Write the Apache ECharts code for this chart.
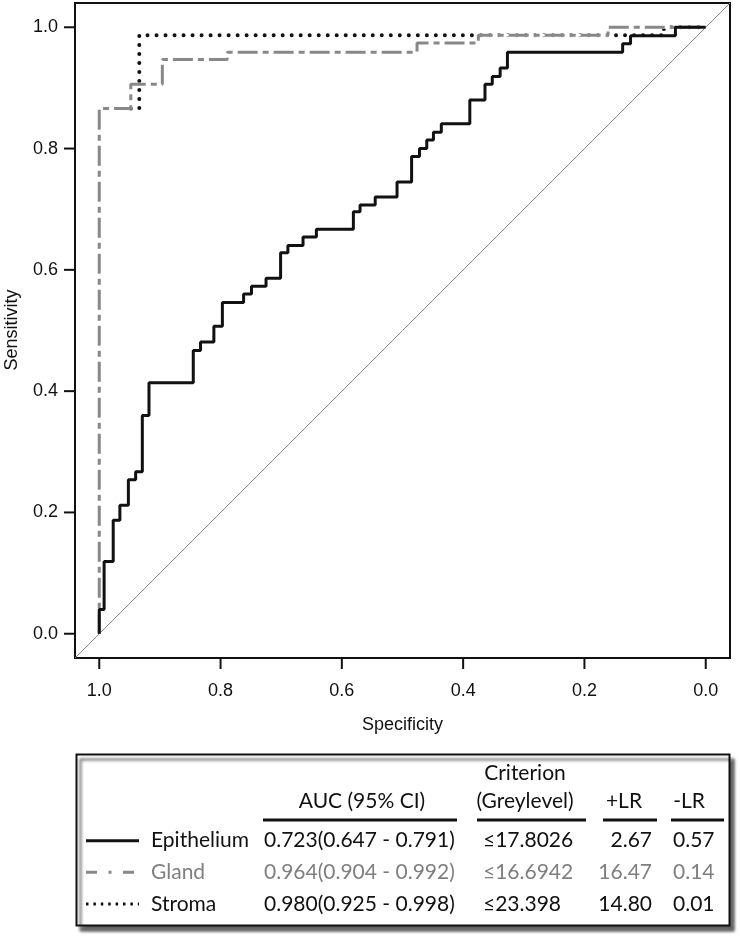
<!DOCTYPE html>
<html>
<head>
<meta charset="utf-8">
<script src="https://cdn.jsdelivr.net/npm/echarts@6/dist/echarts.min.js"></script>
<style>
html,body{margin:0;padding:0;background:#fff;}
#chart{width:740px;height:940px;}
</style>
</head>
<body>
<div id="chart"></div>
<script>
// ROC step points: [specificity, sensitivity] at each jump (step drawn horizontally then vertically)
const epitheliumPts = [[1.0,0.0],[1.0,0.040],[0.992,0.119],[0.977,0.187],[0.966,0.212],[0.952,0.254],[0.940,0.267],[0.929,0.360],[0.918,0.414],[0.845,0.467],[0.833,0.481],[0.811,0.507],[0.797,0.546],[0.762,0.560],[0.749,0.573],[0.725,0.586],[0.701,0.628],[0.689,0.640],[0.664,0.654],[0.642,0.667],[0.581,0.696],[0.570,0.707],[0.545,0.720],[0.509,0.745],[0.485,0.787],[0.472,0.800],[0.460,0.814],[0.449,0.827],[0.436,0.841],[0.389,0.880],[0.364,0.906],[0.352,0.919],[0.339,0.933],[0.327,0.959],[0.137,0.973],[0.124,0.986],[0.050,1.0],[0.0,1.0]];
const glandPts = [[1.0,0.0],[1.0,0.866],[0.948,0.906],[0.896,0.947],[0.789,0.959],[0.476,0.974],[0.375,0.987],[0.161,1.0],[0.0,1.0]];
const stromaPts = [[0.948,0.866],[0.934,0.987],[0.069,1.0],[0.0,1.0]];
const refLine = [[1.04,-0.04],[-0.04,1.04]];
const axisMin = -0.04, axisMax = 1.04;   // R-style 4% range expansion
const tickValues = [0.0,0.2,0.4,0.6,0.8,1.0];

// table
const rowNames = ['Epithelium','Gland','Stroma'];
const aucText = ['0.723(0.647 - 0.791)','0.964(0.904 - 0.992)','0.980(0.925 - 0.998)'];
const criterionText = ['\u226417.8026','\u226416.6942','\u226423.398'];
const plusLR = ['2.67','16.47','14.80'];
const minusLR = ['0.57','0.14','0.01'];
const headers = ['AUC (95% CI)','Criterion','(Greylevel)','+LR','-LR'];

const BLACK = '#111111';
const rowColors = [BLACK, '#7f7f7f', BLACK];
const TF = 'Lato, "Open Sans", sans-serif';
const tfont = '21px ' + TF;

// plot frame
const GL = 75, GT = 3, GR = 10, GB = 282, W = 740, H = 940;

const chart = echarts.init(document.getElementById('chart'), null, {renderer:'canvas'});

function txt(x, y, text, align, color){
  return {type:'text', x:x, y:y, z:10, style:{text:text, font:tfont, fill:color||BLACK,
    textAlign:align||'left', align:align||'left', textVerticalAlign:'middle', verticalAlign:'middle'}};
}
const rowY = [840.7, 872.3, 904];
const g = [];
g.push({type:'rect', shape:{x:76.5,y:754.5,width:653,height:171}, z:5,
  style:{fill:'#fff', stroke:BLACK, lineWidth:2, shadowBlur:3, shadowOffsetX:4, shadowOffsetY:5, shadowColor:'rgba(0,0,0,0.6)'}});
g.push(txt(362, 801.7, headers[0], 'center'));
g.push(txt(525, 773.3, headers[1], 'center'));
g.push(txt(525, 801.7, headers[2], 'center'));
g.push(txt(624, 801.7, headers[3], 'center'));
g.push(txt(689, 801.7, headers[4], 'center'));
[[263,457],[477,586],[603,657],[671,724]].forEach(function(s){
  g.push({type:'line', z:10, shape:{x1:s[0],y1:820,x2:s[1],y2:820}, style:{stroke:BLACK, lineWidth:3}});
});
const legendStyles = [
  {stroke:BLACK, lineWidth:3},
  {stroke:'#888', lineWidth:3, lineDash:[11,11.5,3,11.5]},
  {stroke:BLACK, lineWidth:3, lineDash:[2.5,4.9]}
];
for (let i=0;i<3;i++){
  const y = rowY[i];
  g.push({type:'line', z:10, shape:{x1:86,y1:y,x2:139,y2:y}, style:legendStyles[i]});
  g.push(txt(151, y, rowNames[i], 'left', rowColors[i]));
  g.push(txt(264, y, aucText[i], 'left', rowColors[i]));
  g.push(txt(483, y, criterionText[i], 'left', rowColors[i]));
  g.push(txt(652, y, plusLR[i], 'right', rowColors[i]));
  g.push(txt(673, y, minusLR[i], 'left', rowColors[i]));
}
g.push({type:'text', x:12, y:330, rotation:Math.PI/2, z:10,
  style:{text:'Sensitivity', font:'18px "Liberation Sans", Arial, sans-serif', fill:BLACK,
    textAlign:'center', align:'center', textVerticalAlign:'middle', verticalAlign:'middle'}});

// axis tick marks, placed with the same linear mapping as the axes (min/max over the grid box)
const TICK = 11;
function xPix(v){ return GL + (axisMax - v) / (axisMax - axisMin) * (W - GL - GR); }  // inverse x axis
function yPix(v){ return GT + (axisMax - v) / (axisMax - axisMin) * (H - GT - GB); }
const bottomY = H - GB, leftX = GL;
tickValues.forEach(function(v){
  const px = xPix(v), py = yPix(v);
  g.push({type:'line', z:12, shape:{x1:px, y1:bottomY, x2:px, y2:bottomY+TICK}, style:{stroke:BLACK, lineWidth:2}});
  g.push({type:'line', z:12, shape:{x1:leftX, y1:py, x2:leftX-TICK, y2:py}, style:{stroke:BLACK, lineWidth:2}});
});

const axisFont = '"Liberation Sans", Arial, sans-serif';
chart.setOption({
  animation:false,
  backgroundColor:'#fff',
  grid:{left:GL, top:GT, right:GR, bottom:GB, show:true, borderColor:BLACK, borderWidth:2,
        backgroundColor:'transparent', containLabel:false, outerBoundsMode:'none'},
  xAxis:{type:'value', inverse:true, min:axisMin, max:axisMax,
    name:'Specificity', nameLocation:'middle', nameGap:58,
    nameTextStyle:{fontFamily:axisFont, fontSize:18, color:BLACK},
    axisLine:{show:false, onZero:false},
    axisTick:{show:false},
    axisLabel:{show:true, customValues:tickValues, margin:24, fontFamily:axisFont, fontSize:18, color:BLACK,
      formatter:function(v){return v.toFixed(1);}},
    splitLine:{show:false}},
  yAxis:{type:'value', min:axisMin, max:axisMax,
    axisLine:{show:false, onZero:false},
    axisTick:{show:false},
    axisLabel:{show:true, customValues:tickValues, margin:17, fontFamily:axisFont, fontSize:18, color:BLACK,
      formatter:function(v){return v.toFixed(1);}},
    splitLine:{show:false}},
  series:[
    {type:'line', data:refLine, symbol:'none', silent:true, z:1,
      lineStyle:{color:'#8c8c8c', width:1}},
    {type:'line', data:stromaPts, step:'end', symbol:'none', z:2,
      lineStyle:{color:BLACK, width:4, type:[0.01,9], cap:'round'}},
    {type:'line', data:glandPts, step:'end', symbol:'none', z:3,
      lineStyle:{color:'#ffffff', width:3}},
    {type:'line', data:glandPts, step:'end', symbol:'none', z:4,
      lineStyle:{color:'#888888', width:3, type:[20,5,6,5]}},
    {type:'line', data:epitheliumPts, step:'end', symbol:'none', z:5,
      lineStyle:{color:BLACK, width:3}}
  ],
  graphic:{elements:g}
});
</script>
</body>
</html>
